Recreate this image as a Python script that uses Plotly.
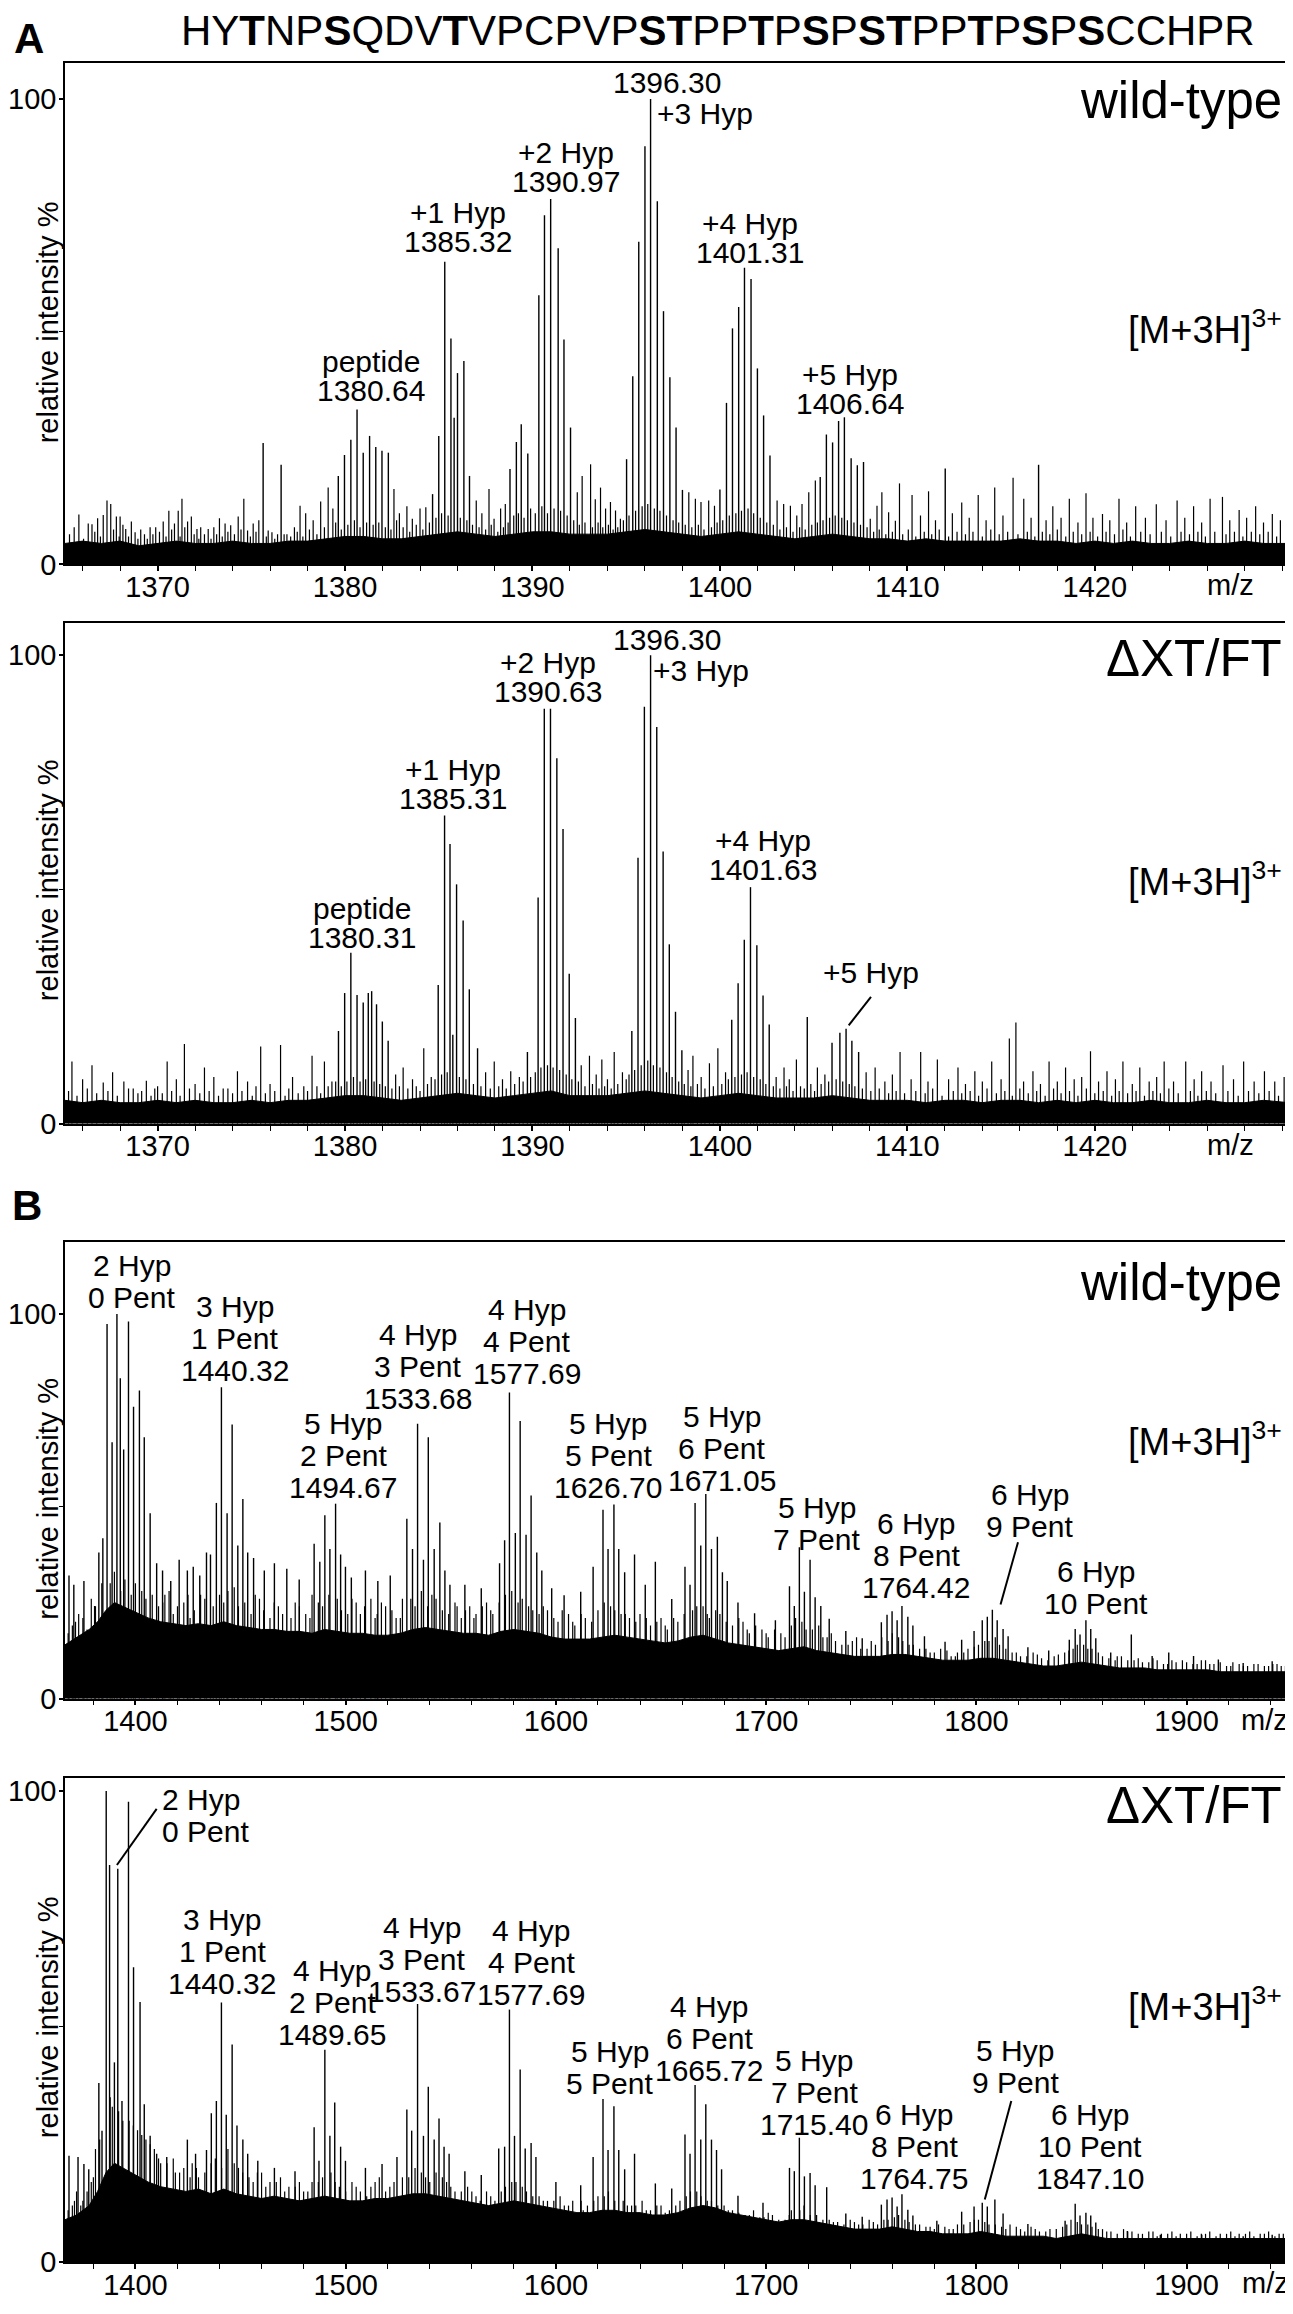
import plotly.graph_objects as go

# page body has an 8px margin: the figure is drawn 8px in from the window edge
OFF = 8
W, H = 1293 - OFF, 2314 - OFF
FONT = "Liberation Sans, Arial, Helvetica, sans-serif"

# ---------------- text / tick data ----------------
sequence = "HYTNPSQDVTVPCPVPSTPPTPSPSTPPTPSPSCCHPR"
bold_residues = "ST"
section_letters = ["A", "B"]
panel_names = ["wild-type", "\u0394XT/FT", "wild-type", "\u0394XT/FT"]
ion_label = "[M+3H]<sup>3+</sup>"
y_title = "relative intensity %"
x_title = "m/z"
a_ticks = [1370, 1380, 1390, 1400, 1410, 1420]
b_ticks = [1400, 1500, 1600, 1700, 1800, 1900]
y_ticks = [0, 100]

# ---------------- panel A, wild-type ----------------
aw_peaks = [
    (1379.64, 19.0), (1379.97, 23.5), (1380.31, 26.8), (1380.64, 33.3), (1380.97, 24.0),
    (1381.31, 27.6), (1381.64, 25.2), (1381.97, 24.4), (1382.31, 24.0),
    (1384.67, 15.1), (1385.00, 27.6), (1385.32, 65.0), (1385.65, 48.5), (1385.82, 31.5),
    (1386.00, 41.1), (1386.34, 43.7), (1386.64, 19.0),
    (1388.80, 20.5), (1389.14, 26.3), (1389.40, 30.1), (1389.75, 23.8), (1390.34, 57.8),
    (1390.64, 75.0), (1390.97, 78.5), (1391.37, 67.9), (1391.68, 48.3), (1392.03, 29.4),
    (1395.02, 22.6), (1395.35, 40.4), (1395.67, 69.3), (1396.00, 89.8), (1396.30, 100.0),
    (1396.66, 78.0), (1396.99, 54.4), (1397.33, 40.2), (1397.66, 29.4), (1398.00, 16.0),
    (1400.00, 16.1), (1400.35, 34.7), (1400.67, 50.7), (1401.00, 55.3), (1401.31, 63.7),
    (1401.66, 61.3), (1402.00, 42.1), (1402.33, 32.0), (1402.67, 23.4),
    (1405.35, 18.8), (1405.68, 27.9), (1406.01, 26.2), (1406.33, 30.8), (1406.64, 31.6),
    (1407.00, 22.8), (1407.33, 21.3), (1407.66, 22.0),
    (1375.63, 26.1), (1376.59, 21.4), (1412.02, 20.6), (1417.00, 21.4),
]
aw_noise = [
    (1365.8, 10.7), (1366.3, 8.8), (1366.5, 8.6), (1366.8, 9.9), (1367.1, 10.6), (1367.3, 13.7),
    (1367.5, 13.0), (1367.8, 10.3), (1368.0, 10.3), (1368.3, 7.6), (1368.6, 9.2), (1368.8, 6.9),
    (1369.3, 6.5), (1369.6, 8.0), (1369.9, 8.0), (1370.3, 9.2), (1370.6, 11.5), (1370.9, 8.8),
    (1371.1, 11.5), (1371.3, 14.1), (1371.6, 9.2), (1371.8, 10.3), (1372.1, 7.6), (1372.3, 8.0),
    (1372.7, 7.6), (1373.0, 8.0), (1373.3, 9.9), (1373.6, 8.8), (1373.9, 8.4), (1374.3, 10.3),
    (1374.6, 14.1), (1374.8, 7.3), (1375.1, 8.8), (1375.4, 9.5), (1375.9, 7.3), (1376.1, 6.9),
    (1376.4, 6.5), (1376.9, 6.5), (1377.3, 8.0), (1377.6, 12.6), (1377.9, 11.0), (1378.3, 9.5),
    (1378.7, 13.5), (1379.1, 16.5), (1379.35, 12.0), (1382.61, 16.2), (1382.9, 11.0),
    (1383.3, 12.5), (1383.59, 9.8), (1384.0, 12.0), (1384.31, 12.3), (1387.0, 13.7),
    (1387.3, 11.0), (1387.68, 16.2), (1387.95, 9.8), (1388.3, 12.0), (1388.55, 13.0),
    (1392.39, 15.5), (1392.65, 19.0), (1393.1, 21.5), (1393.35, 14.0), (1393.63, 16.5),
    (1393.9, 12.0), (1394.16, 13.4), (1394.43, 11.6), (1394.69, 9.8), (1398.34, 15.5),
    (1398.69, 14.1), (1398.99, 13.4), (1399.4, 13.7), (1399.71, 12.6), (1403.05, 13.7),
    (1403.4, 13.0), (1403.76, 12.6), (1404.1, 10.5), (1404.38, 13.0), (1404.74, 15.5),
    (1405.09, 18.0), (1408.02, 9.8), (1408.38, 12.6), (1408.64, 15.5), (1409.0, 11.2),
    (1409.36, 9.4), (1409.58, 17.4), (1410.25, 14.9), (1410.7, 10.5), (1411.13, 15.7),
    (1411.5, 9.5), (1412.4, 11.0), (1412.9, 13.3), (1413.3, 10.0), (1413.78, 14.9),
    (1414.2, 9.5), (1414.66, 16.5), (1415.1, 10.5), (1415.64, 18.6), (1416.21, 14.1),
    (1416.6, 10.0), (1417.4, 9.5), (1417.76, 12.5), (1418.2, 10.0), (1418.64, 14.1),
    (1419.1, 9.0), (1419.53, 15.3), (1419.9, 10.0), (1420.41, 10.8), (1420.8, 9.5),
    (1421.29, 14.1), (1421.7, 9.0), (1422.18, 12.5), (1422.7, 10.0), (1423.28, 12.9),
    (1423.8, 9.5), (1424.39, 13.7), (1424.8, 10.0), (1425.27, 12.5), (1425.7, 9.0),
    (1426.15, 14.1), (1426.81, 14.5), (1427.2, 9.5), (1427.7, 11.7), (1428.1, 10.0),
    (1428.58, 12.5), (1429.0, 9.0), (1429.47, 10.8), (1429.9, 9.5),
]
aw_grass = [
    (1365.3, 6.5), (1365.55, 8.0), (1366.05, 5.5), (1366.65, 7.0), (1366.95, 6.0), (1367.65, 7.5),
    (1367.95, 6.0), (1368.15, 8.5), (1368.45, 6.0), (1368.95, 5.5), (1369.1, 7.5), (1369.45, 5.5),
    (1369.75, 6.5), (1370.1, 7.0), (1370.45, 6.0), (1370.75, 7.5), (1371.2, 6.0), (1371.45, 8.0),
    (1371.95, 6.5), (1372.2, 5.5), (1372.5, 6.5), (1372.85, 5.5), (1373.15, 6.5), (1373.45, 6.0),
    (1373.75, 7.0), (1374.1, 6.5), (1374.45, 7.5), (1374.95, 6.0), (1375.25, 7.0), (1375.8, 6.0),
    (1376.25, 5.5), (1376.75, 6.5), (1377.1, 6.0), (1377.45, 7.0), (1377.75, 6.0), (1378.1, 7.5),
    (1378.5, 6.5), (1378.9, 8.0), (1379.5, 9.0), (1379.8, 7.5), (1380.15, 8.5), (1380.5, 9.5),
    (1380.8, 8.0), (1381.15, 9.0), (1381.5, 8.5), (1381.8, 9.0), (1382.15, 8.0), (1382.45, 7.5),
    (1382.75, 9.5), (1383.1, 8.0), (1383.45, 7.0), (1383.8, 8.5), (1384.15, 7.5), (1384.5, 9.0),
    (1384.85, 10.0), (1385.15, 11.0), (1385.5, 10.5), (1386.15, 10.0), (1386.5, 9.5), (1386.8, 8.5),
    (1387.15, 8.0), (1387.5, 7.5), (1387.8, 8.5), (1388.15, 7.0), (1388.45, 8.0), (1388.7, 9.0),
    (1389.0, 10.5), (1389.25, 11.0), (1389.55, 10.0), (1389.9, 12.0), (1390.15, 11.0), (1390.5, 12.5),
    (1390.8, 11.0), (1391.15, 12.0), (1391.5, 11.5), (1391.85, 10.5), (1392.2, 9.5), (1392.5, 8.5),
    (1392.8, 9.0), (1393.2, 8.0), (1393.5, 9.0), (1393.75, 8.0), (1394.05, 8.5), (1394.3, 7.5),
    (1394.55, 8.0), (1394.85, 9.5), (1395.15, 10.5), (1395.5, 11.5), (1395.85, 12.5), (1396.15, 13.0),
    (1396.5, 12.0), (1396.8, 11.5), (1397.15, 10.5), (1397.5, 9.5), (1397.8, 9.0), (1398.15, 8.5),
    (1398.5, 8.0), (1398.85, 8.5), (1399.15, 7.5), (1399.55, 8.0), (1399.85, 9.0), (1400.15, 9.5),
    (1400.5, 10.5), (1400.85, 11.0), (1401.15, 11.5), (1401.5, 12.0), (1401.8, 11.0), (1402.15, 10.0),
    (1402.5, 9.0), (1402.85, 8.5), (1403.2, 7.5), (1403.55, 8.0), (1403.9, 7.0), (1404.25, 8.0),
    (1404.55, 7.5), (1404.9, 8.5), (1405.2, 9.0), (1405.5, 9.5), (1405.85, 10.0), (1406.15, 10.5),
    (1406.5, 10.0), (1406.8, 9.5), (1407.15, 9.0), (1407.5, 8.5), (1407.85, 8.0), (1408.2, 7.0),
    (1408.5, 7.5), (1408.85, 6.5), (1409.2, 7.0), (1409.75, 6.5), (1410.05, 7.5), (1410.45, 6.0),
    (1410.9, 7.0), (1411.3, 6.5), (1411.7, 7.5), (1412.2, 6.0), (1412.65, 7.0), (1413.1, 6.5),
    (1413.5, 7.0), (1414.0, 6.0), (1414.45, 7.5), (1414.9, 6.5), (1415.35, 7.0), (1415.9, 6.5),
    (1416.4, 7.0), (1416.8, 6.0), (1417.2, 7.0), (1417.6, 6.5), (1418.0, 7.5), (1418.45, 6.0),
    (1418.85, 7.0), (1419.3, 6.5), (1419.75, 7.0), (1420.15, 6.0), (1420.6, 7.0), (1421.05, 6.5),
    (1421.5, 7.5), (1421.9, 6.0), (1422.45, 7.0), (1422.95, 6.5), (1423.55, 7.0), (1424.05, 6.0),
    (1424.6, 7.0), (1425.05, 6.5), (1425.5, 7.0), (1425.9, 6.0), (1426.4, 7.0), (1427.0, 6.5),
    (1427.45, 7.0), (1427.9, 6.0), (1428.35, 7.0), (1428.8, 6.5), (1429.25, 7.0), (1429.7, 6.0),
    (1430.2, 6.5),
]
aw_base = [
    (1365.06, 4.5), (1366, 5.0), (1367, 4.5), (1368, 5.0), (1369, 4.0), (1370, 4.5), (1371, 5.0),
    (1372, 4.5), (1373, 4.5), (1374, 5.0), (1375, 4.5), (1376, 4.5), (1377, 5.0), (1378, 5.0),
    (1379, 5.5), (1380, 6.0), (1381, 6.0), (1382, 5.5), (1383, 5.5), (1384, 6.0), (1385, 6.5),
    (1386, 7.0), (1387, 6.5), (1388, 6.0), (1389, 6.5), (1390, 7.0), (1391, 7.0), (1392, 6.5),
    (1393, 6.5), (1394, 6.5), (1395, 7.0), (1396, 7.5), (1397, 7.0), (1398, 6.5), (1399, 6.0),
    (1400, 6.5), (1401, 7.0), (1402, 6.5), (1403, 6.0), (1404, 5.5), (1405, 6.0), (1406, 6.5),
    (1407, 6.0), (1408, 5.5), (1409, 5.5), (1410, 5.0), (1411, 5.5), (1412, 5.0), (1413, 5.0),
    (1414, 5.0), (1415, 5.0), (1416, 5.5), (1417, 5.0), (1418, 5.0), (1419, 4.5), (1420, 5.0),
    (1421, 4.5), (1422, 5.0), (1423, 4.5), (1424, 4.5), (1425, 5.0), (1426, 4.5), (1427, 4.5),
    (1428, 5.0), (1429, 4.5), (1430.36, 4.5),
]
aw_label_text = [["peptide", "1380.64"], ["+1 Hyp", "1385.32"], ["+2 Hyp", "1390.97"],
                 ["1396.30"], ["+3 Hyp"], ["+4 Hyp", "1401.31"], ["+5 Hyp", "1406.64"]]

# ---------------- panel A, dXT/FT ----------------
ad_peaks = [
    (1379.65, 19.8), (1379.98, 27.9), (1380.31, 36.5), (1380.64, 27.5), (1380.97, 25.9),
    (1381.24, 27.9), (1381.42, 28.3), (1381.68, 25.5), (1381.99, 21.8), (1382.30, 17.7),
    (1384.97, 29.6), (1385.31, 65.8), (1385.60, 59.7), (1385.75, 19.0), (1385.95, 51.1),
    (1386.30, 43.4), (1386.63, 28.7), (1387.07, 16.1),
    (1389.73, 15.3), (1390.30, 48.3), (1390.63, 88.6), (1390.96, 88.6), (1391.30, 78.0),
    (1391.63, 62.9), (1391.96, 32.0), (1392.29, 22.6),
    (1395.30, 19.8), (1395.63, 56.8), (1395.97, 89.0), (1396.30, 100.0), (1396.63, 84.7),
    (1396.97, 58.1), (1397.30, 38.3), (1397.63, 23.9), (1397.97, 15.7),
    (1400.63, 22.2), (1400.97, 30.0), (1401.30, 39.3), (1401.63, 50.5), (1401.97, 38.1),
    (1402.30, 27.4), (1402.63, 21.2),
    (1404.66, 22.8), (1405.98, 17.3), (1406.40, 19.4), (1406.73, 20.3), (1407.04, 17.7),
    (1407.40, 15.3),
]
ad_noise = [
    (1365.43, 13.3), (1366.0, 9.5), (1366.5, 12.5), (1367.1, 8.8), (1367.6, 11.0), (1368.2, 9.0),
    (1368.7, 7.5), (1369.4, 9.2), (1370.0, 8.0), (1370.51, 13.3), (1371.0, 9.5), (1371.43, 17.0),
    (1372.0, 8.5), (1372.5, 12.0), (1373.0, 10.0), (1373.5, 7.5), (1374.26, 11.2), (1374.8, 9.0),
    (1375.5, 16.5), (1376.0, 8.5), (1376.56, 16.8), (1377.2, 10.0), (1377.8, 8.0), (1378.24, 14.5),
    (1378.9, 13.3), (1379.3, 9.0), (1382.7, 10.5), (1383.1, 12.0), (1383.6, 9.5), (1384.2, 16.1),
    (1384.6, 10.0), (1387.5, 11.0), (1387.96, 13.3), (1388.4, 9.5), (1388.84, 11.2), (1389.3, 10.0),
    (1392.6, 12.5), (1393.04, 14.5), (1393.4, 10.5), (1393.7, 13.7), (1394.0, 9.5), (1394.36, 15.3),
    (1394.8, 11.0), (1398.3, 11.5), (1398.56, 14.5), (1399.0, 10.0), (1399.44, 12.9), (1399.89, 16.1),
    (1400.3, 11.0), (1403.0, 10.0), (1403.42, 12.0), (1403.7, 9.5), (1404.08, 13.7), (1405.2, 12.0),
    (1405.6, 10.5), (1407.8, 11.0), (1408.28, 12.0), (1408.8, 9.0), (1409.2, 10.5), (1409.61, 15.3),
    (1410.2, 9.5), (1410.71, 15.3), (1411.1, 9.0), (1411.6, 13.7), (1412.2, 9.5), (1412.7, 12.0),
    (1413.1, 8.5), (1413.6, 11.2), (1414.0, 9.0), (1414.5, 13.3), (1415.0, 9.5), (1415.44, 18.2),
    (1415.79, 21.6), (1416.2, 9.0), (1416.7, 11.2), (1417.1, 8.5), (1417.56, 13.3), (1418.0, 9.0),
    (1418.44, 12.0), (1418.9, 9.5), (1419.3, 10.0), (1419.77, 15.5), (1420.2, 9.0), (1420.65, 11.2),
    (1421.1, 9.5), (1421.5, 13.3), (1422.0, 8.5), (1422.4, 12.0), (1422.9, 9.0), (1423.3, 10.0),
    (1423.7, 13.3), (1424.2, 9.0), (1424.85, 13.3), (1425.3, 9.5), (1425.7, 11.2), (1426.2, 9.0),
    (1426.84, 12.5), (1427.4, 9.5), (1427.94, 13.3), (1428.5, 9.0), (1429.05, 11.2), (1429.6, 9.0),
    (1430.1, 10.0),
]
ad_grass = [
    (1365.25, 7.0), (1365.7, 6.0), (1366.25, 7.5), (1366.75, 6.5), (1367.35, 7.0), (1367.85, 6.0),
    (1368.45, 7.5), (1368.95, 6.5), (1369.15, 7.0), (1369.65, 6.0), (1369.85, 7.5), (1370.25, 6.5),
    (1370.75, 7.0), (1371.2, 6.0), (1371.7, 7.5), (1372.25, 6.5), (1372.75, 7.0), (1373.25, 6.0),
    (1373.75, 7.5), (1374.0, 6.5), (1374.5, 7.0), (1375.05, 6.0), (1375.25, 8.0), (1375.75, 6.5),
    (1376.25, 7.0), (1376.8, 6.0), (1377.0, 7.5), (1377.5, 6.5), (1378.0, 7.0), (1378.5, 8.0),
    (1378.7, 6.5), (1379.1, 8.0), (1379.5, 9.0), (1379.8, 8.0), (1380.1, 9.0), (1380.45, 10.0),
    (1380.8, 9.0), (1381.1, 9.5), (1381.55, 9.0), (1381.85, 8.5), (1382.15, 8.0), (1382.5, 7.5),
    (1382.9, 8.0), (1383.35, 7.5), (1383.8, 8.0), (1384.0, 7.0), (1384.4, 8.5), (1384.8, 9.5),
    (1385.15, 10.5), (1385.45, 11.0), (1386.1, 10.0), (1386.45, 9.5), (1386.85, 8.5), (1387.25, 8.0),
    (1387.75, 7.5), (1388.2, 8.0), (1388.6, 7.5), (1389.05, 8.5), (1389.5, 9.0), (1389.9, 10.0),
    (1390.15, 11.0), (1390.45, 12.0), (1390.8, 12.5), (1391.1, 12.0), (1391.45, 11.5), (1391.8, 10.5),
    (1392.1, 9.5), (1392.45, 9.0), (1392.8, 8.0), (1393.2, 8.5), (1393.55, 7.5), (1393.85, 8.0),
    (1394.2, 7.5), (1394.55, 8.5), (1395.0, 9.5), (1395.15, 10.5), (1395.45, 11.5), (1395.8, 12.5),
    (1396.15, 13.5), (1396.45, 12.5), (1396.8, 12.0), (1397.15, 11.0), (1397.45, 10.0), (1397.8, 9.0),
    (1398.1, 8.5), (1398.45, 8.0), (1398.8, 8.5), (1399.2, 7.5), (1399.65, 8.0), (1400.1, 8.5),
    (1400.45, 9.5), (1400.8, 10.0), (1401.15, 10.5), (1401.45, 11.0), (1401.8, 10.0), (1402.15, 9.5),
    (1402.45, 8.5), (1402.85, 8.0), (1403.2, 7.5), (1403.55, 8.0), (1403.9, 7.0), (1404.3, 8.0),
    (1404.5, 7.5), (1404.85, 8.5), (1405.05, 7.0), (1405.4, 8.5), (1405.8, 9.0), (1406.2, 9.5),
    (1406.55, 9.0), (1406.9, 8.5), (1407.2, 8.0), (1407.6, 7.5), (1408.05, 7.0), (1408.5, 7.5),
    (1409.0, 6.5), (1409.4, 7.0), (1409.85, 6.5), (1410.45, 7.0), (1410.95, 6.5), (1411.35, 7.5),
    (1411.85, 6.0), (1412.45, 7.0), (1412.9, 6.5), (1413.35, 7.0), (1413.8, 6.0), (1414.25, 7.5),
    (1414.75, 6.5), (1415.2, 7.0), (1415.6, 6.0), (1416.0, 7.5), (1416.45, 6.5), (1416.9, 7.0),
    (1417.35, 6.0), (1417.8, 7.5), (1418.2, 6.5), (1418.65, 7.0), (1419.1, 6.0), (1419.55, 7.5),
    (1420.0, 6.5), (1420.45, 7.0), (1420.9, 6.0), (1421.3, 7.0), (1421.75, 6.5), (1422.2, 7.0),
    (1422.65, 6.0), (1423.1, 7.0), (1423.5, 6.5), (1423.95, 7.5), (1424.45, 6.5), (1425.1, 7.0),
    (1425.5, 6.0), (1425.95, 7.0), (1426.45, 6.5), (1427.1, 7.0), (1427.65, 6.0), (1428.2, 7.0),
    (1428.75, 6.5), (1429.3, 7.0), (1429.8, 6.0),
]
ad_base = [
    (1365.06, 5.0), (1366, 4.5), (1367, 5.0), (1368, 4.5), (1369, 4.5), (1370, 5.0), (1371, 4.5),
    (1372, 5.0), (1373, 4.5), (1374, 4.5), (1375, 5.0), (1376, 4.5), (1377, 5.0), (1378, 5.0),
    (1379, 5.5), (1380, 6.0), (1381, 6.0), (1382, 5.5), (1383, 5.0), (1384, 5.5), (1385, 6.0),
    (1386, 6.5), (1387, 6.0), (1388, 5.5), (1389, 6.0), (1390, 6.5), (1391, 7.0), (1392, 6.0),
    (1393, 6.0), (1394, 6.0), (1395, 6.5), (1396, 7.0), (1397, 6.5), (1398, 6.0), (1399, 5.5),
    (1400, 6.0), (1401, 6.5), (1402, 6.0), (1403, 5.5), (1404, 5.5), (1405, 5.5), (1406, 6.0),
    (1407, 5.5), (1408, 5.0), (1409, 5.0), (1410, 5.0), (1411, 4.5), (1412, 5.0), (1413, 5.0),
    (1414, 4.5), (1415, 5.0), (1416, 5.0), (1417, 4.5), (1418, 5.0), (1419, 4.5), (1420, 5.0),
    (1421, 4.5), (1422, 4.5), (1423, 5.0), (1424, 4.5), (1425, 4.5), (1426, 5.0), (1427, 4.5),
    (1428, 4.5), (1429, 5.0), (1430.36, 4.5),
]
ad_label_text = [["peptide", "1380.31"], ["+1 Hyp", "1385.31"], ["+2 Hyp", "1390.63"],
                 ["1396.30"], ["+3 Hyp"], ["+4 Hyp", "1401.63"], ["+5 Hyp"]]

# ---------------- panel B, wild-type ----------------
bw_peaks = [
    (1368.4, 32.0), (1370.7, 29.6), (1375.5, 30.6), (1380.6, 24.1), (1382.6, 38.0),
    (1384.5, 41.7), (1386.5, 97.4), (1388.9, 66.7), (1391.2, 100.0), (1392.8, 83.3),
    (1394.4, 64.8), (1396.7, 98.1), (1399.1, 75.9), (1401.9, 80.1), (1404.2, 68.0),
    (1407.0, 48.2), (1410.1, 35.2), (1412.9, 33.3), (1416.8, 30.6), (1420.8, 36.1),
    (1424.7, 33.3), (1427.5, 34.3), (1430.6, 32.0), (1433.8, 38.0), (1435.7, 37.5),
    (1438.5, 50.9), (1440.9, 81.0), (1443.6, 48.2), (1446.0, 71.3), (1448.7, 39.8),
    (1451.1, 51.9), (1453.4, 38.0), (1456.2, 36.6), (1461.3, 33.3), (1466.1, 35.2),
    (1472.0, 33.8), (1477.9, 31.0), (1485.0, 40.3), (1487.7, 35.6), (1490.1, 47.7),
    (1492.5, 38.9), (1495.2, 50.7), (1497.6, 37.5), (1499.9, 34.3), (1502.7, 31.5),
    (1509.4, 33.3), (1515.3, 30.6), (1521.2, 32.0), (1529.1, 46.8), (1531.8, 38.9),
    (1534.2, 71.5), (1537.0, 36.1), (1539.3, 68.0), (1542.1, 38.9), (1544.8, 45.8),
    (1547.2, 33.3), (1549.6, 29.6), (1556.7, 29.6), (1564.5, 28.7), (1573.2, 35.2),
    (1575.6, 41.2), (1577.9, 79.6), (1580.7, 43.1), (1583.0, 72.2), (1585.8, 42.6),
    (1588.2, 52.8), (1590.9, 38.0), (1593.3, 33.3), (1598.0, 28.7), (1603.9, 26.9),
    (1611.8, 27.8), (1617.7, 34.3), (1622.4, 49.1), (1624.8, 38.9), (1627.6, 50.5),
    (1629.9, 38.9), (1632.7, 32.9), (1637.4, 37.5), (1642.5, 29.6), (1647.3, 35.6),
    (1655.1, 25.9), (1661.4, 34.3), (1663.8, 29.6), (1666.2, 50.9), (1668.9, 39.8),
    (1671.3, 53.2), (1674.0, 38.9), (1676.8, 42.1), (1679.2, 32.9), (1681.5, 30.6),
    (1686.6, 25.0), (1694.5, 22.2), (1704.4, 20.4), (1711.1, 29.2), (1713.4, 24.1),
    (1715.8, 39.4), (1718.2, 27.8), (1720.9, 36.1), (1723.3, 26.4), (1726.0, 24.1),
    (1730.0, 20.8), (1737.9, 17.6), (1745.7, 15.7), (1754.8, 19.9), (1757.5, 21.8),
    (1759.9, 22.7), (1762.3, 20.4), (1764.6, 24.1), (1767.4, 21.3), (1769.8, 19.0),
    (1775.3, 16.2), (1785.1, 14.8), (1793.0, 15.3), (1798.9, 17.6), (1802.8, 20.4),
    (1805.2, 21.3), (1807.6, 23.1), (1809.9, 20.4), (1812.7, 18.1), (1815.1, 16.2),
    (1824.5, 13.4), (1834.4, 12.5), (1844.2, 15.3), (1847.0, 18.1), (1849.3, 16.7),
    (1852.1, 20.4), (1854.4, 18.1), (1856.8, 15.7), (1863.9, 12.0), (1873.7, 16.7),
    (1883.6, 11.1), (1891.5, 12.0), (1903.3, 11.1), (1915.1, 10.2), (1926.9, 9.3),
    (1940.7, 9.7),
]
bw_noise = [
    (1370, 19), (1373, 22), (1377, 18), (1379, 26), (1388, 30), (1393, 28), (1398, 27), (1405, 26),
    (1411, 24), (1414, 27), (1418, 22), (1423, 25), (1426, 21), (1431, 27), (1437, 24), (1444, 28),
    (1449, 24), (1455, 22), (1459, 26), (1464, 21), (1468, 24), (1474, 21), (1476, 25), (1481, 22),
    (1484, 27), (1489, 24), (1496, 26), (1501, 22), (1505, 25), (1507, 22), (1512, 26), (1515, 22),
    (1519, 24), (1524, 21), (1527, 26), (1533, 24), (1541, 27), (1546, 23), (1552, 25), (1555, 21),
    (1559, 24), (1562, 22), (1567, 25), (1570, 22), (1576, 27), (1582, 25), (1587, 24), (1592, 22),
    (1596, 23), (1601, 20), (1606, 22), (1609, 19), (1614, 21), (1620, 23), (1626, 24), (1631, 22),
    (1635, 21), (1640, 22), (1645, 19), (1650, 21), (1653, 18), (1658, 20), (1665, 23), (1670, 24),
    (1673, 21), (1678, 22), (1684, 19), (1689, 20), (1692, 17), (1698, 18), (1701, 16), (1707, 17),
    (1712, 19), (1717, 20), (1722, 18), (1729, 16), (1733, 15), (1739, 14), (1743, 16), (1748, 13),
    (1752, 14), (1758, 15), (1763, 16), (1768, 14), (1773, 13), (1778, 12), (1783, 13), (1788, 11),
    (1791, 12), (1796, 13), (1801, 14), (1806, 15), (1811, 14), (1817, 12), (1821, 11), (1827, 12),
    (1831, 10.5), (1837, 11), (1842, 12), (1846, 13), (1851, 14), (1855, 13), (1860, 11), (1866, 10),
    (1869, 11), (1875, 10), (1879, 9.5), (1886, 10), (1889, 9), (1895, 9.5), (1898, 10), (1905, 9),
    (1909, 10), (1913, 9), (1919, 8.5), (1922, 9.5), (1929, 8.5), (1932, 9), (1937, 8.5), (1943, 9),
    (1947, 8.5),
]
bw_grass = [
    (1368, 17), (1371.5, 20), (1375, 21), (1381, 24), (1384, 30), (1390, 33), (1395, 31), (1400, 30),
    (1403, 28), (1408, 27), (1413, 25), (1416, 28), (1420, 24), (1425, 27), (1428, 23), (1433, 26),
    (1440, 27), (1442, 25), (1447, 29), (1452, 25), (1457, 27), (1461, 23), (1466, 25), (1470, 22),
    (1478, 24), (1483, 21), (1487, 25), (1492, 27), (1498, 23), (1503, 26), (1509, 24), (1514, 21),
    (1517, 25), (1522, 23), (1526, 21), (1531, 26), (1536, 28), (1539, 24), (1543, 26), (1549, 22),
    (1553, 24), (1557, 23), (1561, 21), (1565, 24), (1569, 23), (1573, 25), (1579, 28), (1584, 26),
    (1589, 23), (1594, 24), (1599, 21), (1603, 23), (1608, 20), (1612, 22), (1617, 20), (1623, 25),
    (1628, 23), (1633, 22), (1638, 20), (1643, 21), (1648, 20), (1652, 19), (1656, 21), (1661, 22),
    (1667, 24), (1672, 22), (1676, 23), (1681, 20), (1687, 21), (1691, 18), (1695, 19), (1700, 17),
    (1704, 18), (1709, 16), (1714, 21), (1719, 18), (1725, 19), (1727, 16), (1731, 17), (1736, 14),
    (1741, 15), (1745, 13), (1750, 15), (1755, 16), (1760, 17), (1765, 15), (1770, 14), (1776, 13),
    (1780, 12), (1786, 12.5), (1790, 11), (1794, 12), (1799, 13.5), (1804, 15), (1809, 16), (1814, 13),
    (1819, 12), (1824, 11), (1829, 11.5), (1834, 10), (1839, 11.5), (1844, 12.5), (1848, 14), (1853, 13),
    (1858, 12), (1863, 10.5), (1867, 11), (1872, 10), (1877, 10.5), (1882, 9.5), (1884, 10.5), (1891, 9),
    (1893, 10), (1900, 9.5), (1903, 9), (1907, 10), (1911, 9), (1916, 9.5), (1921, 8.5), (1925, 9),
    (1927, 8.5), (1934, 9), (1939, 8.5), (1941, 9), (1945, 8.5),
]
bw_base = [
    (1366.5, 14), (1372, 16), (1378, 18), (1382, 20), (1386, 23), (1390, 25), (1394, 24), (1398, 23),
    (1402, 22), (1406, 21), (1412, 20), (1418, 19.5), (1424, 19), (1430, 19.5), (1436, 19), (1442, 20),
    (1448, 19), (1454, 18.5), (1460, 18), (1466, 18), (1472, 17.5), (1478, 17.5), (1484, 17),
    (1490, 18), (1496, 17.5), (1502, 17), (1508, 17), (1514, 16.5), (1520, 16.5), (1526, 17),
    (1532, 18), (1538, 18.5), (1544, 18), (1550, 17.5), (1556, 17), (1562, 17), (1568, 16.5),
    (1574, 17.5), (1580, 18), (1586, 17.5), (1592, 17), (1598, 16), (1604, 15.5), (1610, 15.5),
    (1616, 15.5), (1622, 16), (1628, 16.5), (1634, 16), (1640, 15.5), (1646, 15), (1652, 14.5),
    (1658, 15), (1664, 16), (1670, 16.5), (1676, 15.5), (1682, 14.5), (1688, 14), (1694, 13.5),
    (1700, 13), (1706, 12.5), (1712, 13), (1718, 13.5), (1724, 12.5), (1730, 12), (1736, 11.5),
    (1742, 11), (1748, 11), (1754, 11), (1760, 11.5), (1766, 11.5), (1772, 11), (1778, 10.5),
    (1784, 10), (1790, 10), (1796, 10), (1802, 10.5), (1808, 10.5), (1814, 10), (1820, 9.5),
    (1826, 9), (1832, 8.5), (1838, 8.5), (1844, 9), (1850, 9.5), (1856, 9), (1862, 8.5), (1868, 8),
    (1874, 8), (1880, 8), (1886, 7.5), (1892, 7.5), (1898, 7.5), (1904, 7.5), (1910, 7.5), (1916, 7),
    (1922, 7), (1928, 7), (1934, 7), (1940, 7), (1948.7, 7),
]
bw_label_text = [["2 Hyp", "0 Pent"], ["3 Hyp", "1 Pent", "1440.32"], ["5 Hyp", "2 Pent", "1494.67"],
                 ["4 Hyp", "3 Pent", "1533.68"], ["4 Hyp", "4 Pent", "1577.69"],
                 ["5 Hyp", "5 Pent", "1626.70"], ["5 Hyp", "6 Pent", "1671.05"], ["5 Hyp", "7 Pent"],
                 ["6 Hyp", "8 Pent", "1764.42"], ["6 Hyp", "9 Pent"], ["6 Hyp", "10 Pent"]]

# ---------------- panel B, dXT/FT ----------------
bd_peaks = [
    (1368.4, 22.6), (1372.7, 22.3), (1375.5, 20.8), (1377.8, 19.7), (1382.6, 38.0),
    (1384.1, 27.9), (1386.1, 100.0), (1387.7, 84.3), (1390.0, 42.4), (1391.6, 83.5),
    (1393.6, 34.2), (1396.7, 97.7), (1399.1, 62.6), (1402.2, 55.2), (1404.2, 33.5),
    (1407.0, 26.8), (1410.1, 23.0), (1414.9, 22.3), (1424.7, 26.0), (1428.6, 23.0),
    (1433.8, 23.8), (1436.1, 31.6), (1438.5, 34.2), (1440.9, 55.1), (1443.2, 31.3),
    (1446.0, 46.2), (1448.3, 29.0), (1451.1, 26.0), (1453.4, 23.0), (1458.2, 21.5),
    (1466.1, 20.0), (1475.9, 19.3), (1485.0, 28.6), (1487.3, 21.5), (1490.1, 45.1),
    (1492.5, 26.8), (1494.8, 33.9), (1497.6, 24.5), (1499.9, 21.5), (1509.4, 20.0),
    (1517.3, 20.8), (1524.4, 22.3), (1529.1, 32.4), (1531.4, 27.9), (1534.2, 54.8),
    (1537.0, 26.8), (1539.3, 37.2), (1542.1, 26.0), (1544.4, 30.5), (1546.8, 24.5),
    (1549.2, 23.0), (1556.7, 19.3), (1564.5, 18.5), (1572.8, 24.1), (1575.6, 24.5),
    (1577.9, 53.6), (1580.3, 26.8), (1583.0, 40.9), (1585.4, 24.1), (1588.2, 25.3),
    (1590.5, 22.3), (1600.0, 17.0), (1611.8, 16.3), (1617.7, 22.3), (1622.4, 34.6),
    (1624.8, 23.8), (1627.6, 33.1), (1629.9, 23.8), (1632.7, 19.7), (1637.4, 23.0),
    (1647.3, 16.7), (1655.1, 15.6), (1661.4, 27.1), (1663.8, 23.0), (1666.2, 37.6),
    (1668.9, 26.0), (1671.3, 33.5), (1674.0, 26.0), (1676.4, 23.8), (1678.8, 19.7),
    (1686.6, 14.1), (1698.5, 12.6), (1711.1, 20.0), (1713.4, 19.3), (1715.8, 26.4),
    (1718.2, 18.2), (1720.9, 18.9), (1723.3, 16.3), (1728.8, 15.9), (1737.9, 10.3),
    (1745.7, 9.6), (1754.8, 12.2), (1757.5, 13.3), (1759.9, 13.7), (1762.3, 11.8),
    (1764.6, 14.4), (1767.4, 11.1), (1769.8, 9.9), (1781.2, 8.8), (1793.0, 10.7),
    (1798.9, 11.8), (1802.8, 12.6), (1805.2, 11.8), (1808.8, 13.3), (1812.7, 10.3),
    (1824.5, 8.1), (1842.2, 8.8), (1847.0, 12.4), (1849.3, 9.9), (1852.1, 10.5),
    (1854.4, 9.9), (1856.8, 8.4), (1871.8, 6.6), (1887.5, 5.8), (1907.2, 5.8),
    (1926.9, 5.5), (1940.7, 5.8),
]
bd_noise = [
    (1370, 12), (1372, 15), (1375, 13), (1379, 17), (1381, 24), (1388, 35), (1392, 32), (1397, 30),
    (1401, 28), (1405, 26), (1409, 24), (1412, 21), (1418, 22), (1421, 19), (1427, 21), (1430, 18),
    (1438, 22), (1444, 24), (1449, 20), (1454, 18), (1460, 19), (1464, 17), (1469, 18), (1473, 16),
    (1478, 17), (1482, 15), (1487, 17), (1493, 19), (1497, 16), (1503, 17), (1507, 15), (1512, 16),
    (1516, 18), (1521, 16), (1527, 18), (1533, 20), (1538, 18), (1543, 19), (1548, 17), (1552, 15),
    (1558, 16), (1562, 14), (1567, 15), (1571, 13), (1576, 16), (1581, 17), (1586, 15), (1592, 14),
    (1596, 13), (1602, 14), (1606, 12), (1612, 13), (1615, 12), (1620, 14), (1625, 15), (1632, 13),
    (1636, 12), (1641, 13), (1645, 11), (1650, 12), (1654, 11), (1659, 13), (1664, 15), (1669, 14),
    (1674, 13), (1680, 12), (1684, 11), (1690, 10), (1694, 11), (1699, 9.5), (1703, 10), (1709, 9),
    (1712, 11), (1718, 12), (1724, 10), (1730, 9), (1734, 8.5), (1740, 9), (1744, 8), (1749, 9),
    (1753, 8), (1758, 9), (1763, 10), (1768, 8.5), (1773, 8), (1778, 7.5), (1782, 8), (1787, 7),
    (1791, 8), (1797, 8.5), (1801, 9), (1806, 8), (1812, 7.5), (1816, 8), (1821, 7), (1826, 7.5),
    (1830, 6.5), (1835, 7), (1841, 7.5), (1845, 9), (1850, 8), (1855, 7.5), (1860, 7), (1864, 6.5),
    (1870, 7), (1874, 6.5), (1879, 6), (1884, 6.5), (1888, 6), (1893, 6.5), (1897, 6), (1902, 6.5),
    (1907, 6), (1911, 6.5), (1916, 6), (1921, 6.5), (1925, 6), (1930, 6.5), (1935, 6), (1939, 6.5),
    (1944, 6),
]
bd_grass = [
    (1368, 11), (1371, 13), (1374, 12), (1377, 15), (1380, 18), (1383, 26), (1389, 33), (1394, 30),
    (1399, 29), (1403, 27), (1407, 25), (1411, 22), (1415, 21), (1419, 19), (1423, 20), (1426, 18),
    (1429, 20), (1433, 19), (1436, 21), (1441, 20), (1447, 21), (1451, 19), (1456, 17), (1458, 19),
    (1462, 16), (1467, 17), (1471, 15), (1476, 16), (1480, 15), (1484, 17), (1489, 18), (1495, 17),
    (1500, 15), (1505, 16), (1510, 14), (1514, 17), (1519, 15), (1523, 17), (1530, 18), (1536, 19),
    (1540, 17), (1546, 18), (1550, 16), (1555, 15), (1560, 15), (1564, 13), (1569, 14), (1574, 15),
    (1579, 17), (1584, 16), (1589, 14), (1594, 13), (1599, 13), (1604, 12), (1608, 13), (1613, 11),
    (1618, 13), (1623, 14), (1628, 13), (1634, 12), (1638, 12), (1643, 11), (1648, 12), (1652, 10.5),
    (1657, 12), (1662, 14), (1667, 15), (1672, 13), (1677, 12), (1682, 11), (1687, 10.5), (1692, 10),
    (1697, 9.5), (1701, 10.5), (1706, 9), (1711, 10), (1716, 11), (1721, 10), (1727, 9), (1732, 8.5),
    (1737, 8), (1742, 8.5), (1746, 8), (1751, 8.5), (1756, 9), (1761, 9.5), (1766, 9), (1771, 8),
    (1776, 7.5), (1780, 7), (1785, 7.5), (1789, 7), (1794, 8), (1799, 9), (1804, 8.5), (1809, 8),
    (1814, 7), (1819, 7.5), (1823, 6.5), (1828, 7), (1833, 6.5), (1838, 7), (1843, 8), (1848, 8.5),
    (1853, 8), (1858, 7), (1862, 6.5), (1867, 6), (1872, 6.5), (1877, 6), (1882, 6.5), (1886, 5.5),
    (1891, 6), (1895, 5.5), (1900, 6), (1905, 5.5), (1909, 6), (1914, 5.5), (1919, 6), (1923, 5.5),
    (1928, 6), (1932, 5.5), (1937, 6), (1942, 5.5), (1946, 6),
]
bd_base = [
    (1366.5, 9), (1372, 10), (1378, 12), (1382, 15), (1386, 19), (1390, 21), (1394, 20), (1398, 19),
    (1402, 18), (1406, 17), (1412, 16), (1418, 15.5), (1424, 15), (1430, 15.5), (1436, 14.5),
    (1442, 15.5), (1448, 14.5), (1454, 14), (1460, 13.5), (1466, 14), (1472, 13.5), (1478, 13),
    (1484, 13.5), (1490, 14), (1496, 13.5), (1502, 13), (1508, 13), (1514, 13.5), (1520, 13.5),
    (1526, 14), (1532, 14.5), (1538, 14.5), (1544, 14), (1550, 13.5), (1556, 13), (1562, 12.5),
    (1568, 12), (1574, 12.5), (1580, 13), (1586, 12.5), (1592, 12), (1598, 11.5), (1604, 11),
    (1610, 10.5), (1616, 10.5), (1622, 11), (1628, 11), (1634, 10.5), (1640, 10.5), (1646, 10),
    (1652, 10), (1658, 10.5), (1664, 11.5), (1670, 12), (1676, 11.5), (1682, 10.5), (1688, 10),
    (1694, 9.5), (1700, 9), (1706, 8.5), (1712, 9), (1718, 9), (1724, 8.5), (1730, 8), (1736, 7.5),
    (1742, 7), (1748, 7), (1754, 7), (1760, 7.5), (1766, 7), (1772, 6.5), (1778, 6.5), (1784, 6),
    (1790, 6), (1796, 6), (1802, 6.5), (1808, 6), (1814, 5.5), (1820, 5.5), (1826, 5.5), (1832, 5.5),
    (1838, 5), (1844, 5.5), (1850, 6), (1856, 5.5), (1862, 5), (1868, 5), (1874, 5), (1880, 5),
    (1886, 5), (1892, 5), (1898, 5), (1904, 5), (1910, 5), (1916, 5), (1922, 5), (1928, 5),
    (1934, 5), (1940, 5), (1948.7, 5),
]
bd_label_text = [["2 Hyp", "0 Pent"], ["3 Hyp", "1 Pent", "1440.32"], ["4 Hyp", "2 Pent", "1489.65"],
                 ["4 Hyp", "3 Pent", "1533.67"], ["4 Hyp", "4 Pent", "1577.69"], ["5 Hyp", "5 Pent"],
                 ["4 Hyp", "6 Pent", "1665.72"], ["5 Hyp", "7 Pent", "1715.40"],
                 ["6 Hyp", "8 Pent", "1764.75"], ["5 Hyp", "9 Pent"], ["6 Hyp", "10 Pent", "1847.10"]]

# ---------------- layout (positions in window pixels / data units for placement) ----------------
LEFT_PX, RIGHT_PX = 65, 1289
panels = [
    dict(top=60, bottom=566, xr=[1365.06, 1430.36], yr=[0, 107.8], ticks=a_ticks, minor=2,
         peaks=aw_peaks, noise=aw_noise, grass=aw_grass, base=aw_base, labels=aw_label_text,
         label_pos=[(1381.4, 34.8), (1386.02, 66.8), (1391.78, 79.8), (1397.15, 101.1),
                    (1399.23, 94.4), (1401.59, 64.5), (1406.95, 32.2)],
         leaders=[], name_y=98, ion_y=327, mz_x=1230, lh=29),
    dict(top=625, bottom=1130, xr=[1365.06, 1430.36], yr=[0, 106.9], ticks=a_ticks, minor=2,
         peaks=ad_peaks, noise=ad_noise, grass=ad_grass, base=ad_base, labels=ad_label_text,
         label_pos=[(1380.89, 37.3), (1385.75, 67.0), (1390.83, 89.8), (1397.15, 100.8),
                    (1399.0, 94.3), (1402.32, 51.9), (1408.06, 29.9)],
         leaders=[((1408.06, 27.1), (1406.87, 21.0))], name_y=661, ion_y=883, mz_x=1230, lh=29),
    dict(top=1249, bottom=1709.7, xr=[1366.5, 1948.7], yr=[0, 118.8], ticks=b_ticks, minor=20,
         peaks=bw_peaks, noise=bw_noise, grass=bw_grass, base=bw_base, labels=bw_label_text,
         label_pos=[(1398.3, 101.4), (1447.2, 82.4), (1498.8, 52.0), (1534.2, 75.0),
                    (1586.2, 81.5), (1624.8, 51.9), (1678.8, 53.7), (1724.1, 38.4),
                    (1771.3, 25.9), (1825.3, 41.7), (1856.8, 21.8)],
         leaders=[((1819.8, 40.7), (1811.5, 24.5))], name_y=1290, ion_y=1448, mz_x=1264, lh=32),
    dict(top=1789.5, bottom=2277.8, xr=[1366.5, 1948.7], yr=[0, 102.8], ticks=b_ticks, minor=20,
         peaks=bd_peaks, noise=bd_noise, grass=bd_grass, base=bd_base, labels=bd_label_text,
         label_pos=[(1411.7, 88.9, "left"), (1441.2, 56.6), (1493.6, 45.8), (1536.2, 55.1),
                    (1588.2, 54.4), (1625.6, 35.4), (1672.9, 38.3), (1722.9, 26.8),
                    (1770.5, 15.2), (1818.6, 35.7), (1854.1, 15.2)],
         leaders=[((1410.1, 96.2), (1391.2, 84.3)), ((1816.6, 34.2), (1804.0, 13.3))],
         name_y=1817, ion_y=2018, mz_x=1265, lh=32),
]


def sticks(pairs):
    xs, ys = [], []
    for m, h in pairs:
        xs += [m, m, None]
        ys += [0, h, None]
    return xs, ys


def px(x):
    return (x - OFF) / W


def py(y):
    return 1 - (y - OFF) / H


fig = go.Figure()
annotations = []
shapes = []
layout_axes = {}

for i, p in enumerate(panels, start=1):
    sfx = "" if i == 1 else str(i)
    xref, yref = "x" + sfx, "y" + sfx
    bx, by = zip(*p["base"])
    fig.add_trace(go.Scatter(x=list(bx), y=list(by), mode="lines", fill="tozeroy",
                             fillcolor="black", line=dict(color="black", width=1),
                             hoverinfo="skip", xaxis=xref, yaxis=yref))
    for series, wdt in ((p["grass"], 1.2), (p["noise"], 1.2), (p["peaks"], 1.4)):
        sx, sy = sticks(series)
        fig.add_trace(go.Scatter(x=sx, y=sy, mode="lines", line=dict(color="black", width=wdt),
                                 hoverinfo="skip", xaxis=xref, yaxis=yref))

    layout_axes["xaxis" + sfx] = dict(
        domain=[px(LEFT_PX), px(RIGHT_PX)], anchor=yref, range=p["xr"],
        tickmode="array", tickvals=p["ticks"], ticktext=[str(t) for t in p["ticks"]],
        ticks="outside", ticklen=5, tickwidth=1.5, tickcolor="black", ticklabelstandoff=-9,
        minor=dict(tickmode="linear", tick0=p["ticks"][0], dtick=p["minor"], ticks="outside",
                   ticklen=5, tickwidth=1.2, tickcolor="black"),
        showline=True, linecolor="black", linewidth=1.5, mirror=True,
        showgrid=False, zeroline=False,
        tickfont=dict(family=FONT, size=29, color="black"))
    layout_axes["yaxis" + sfx] = dict(
        domain=[py(p["bottom"]), py(p["top"])], anchor=xref, range=p["yr"],
        tickmode="array", tickvals=y_ticks, ticktext=[str(t) for t in y_ticks],
        ticks="outside", ticklen=4, tickwidth=1.5, tickcolor="black", ticklabelstandoff=-3,
        minor=dict(tickmode="linear", tick0=0, dtick=50, ticks="outside",
                   ticklen=4, tickwidth=1.2, tickcolor="black"),
        showline=True, linecolor="black", linewidth=1.5, mirror=True,
        showgrid=False, zeroline=False,
        tickfont=dict(family=FONT, size=29, color="black"))

    for lines, pos in zip(p["labels"], p["label_pos"]):
        anchor = pos[2] if len(pos) > 2 else "center"
        n = len(lines)
        for k, t in enumerate(lines):
            annotations.append(dict(
                x=pos[0], y=pos[1], xref=xref, yref=yref, text=t, showarrow=False,
                xanchor=anchor, yanchor="bottom", yshift=-7 + (n - 1 - k) * p["lh"],
                font=dict(family=FONT, size=30, color="black")))
    for (x0, y0), (x1, y1) in p["leaders"]:
        shapes.append(dict(type="line", xref=xref, yref=yref, x0=x0, y0=y0, x1=x1, y1=y1,
                           line=dict(color="black", width=2)))

    annotations.append(dict(x=px(1284), y=py(p["name_y"]), xref="paper", yref="paper",
                            text=panel_names[i - 1], showarrow=False, xanchor="right",
                            yanchor="middle", font=dict(family=FONT, size=51, color="black")))
    annotations.append(dict(x=px(1284), y=py(p["ion_y"]), xref="paper", yref="paper",
                            text=ion_label, showarrow=False, xanchor="right",
                            yanchor="middle", font=dict(family=FONT, size=38, color="black")))
    annotations.append(dict(x=px(48), y=52, xref="paper", yref=yref, text=y_title,
                            textangle=-90, showarrow=False, xanchor="center", yanchor="middle",
                            font=dict(family=FONT, size=29, color="black")))
    annotations.append(dict(x=px(p["mz_x"]), y=py(p["bottom"] + 21), xref="paper", yref="paper",
                            text=x_title, showarrow=False, xanchor="center", yanchor="middle",
                            font=dict(family=FONT, size=29, color="black")))

annotations.append(dict(x=px(29), y=py(36), xref="paper", yref="paper",
                        text="<b>%s</b>" % section_letters[0], showarrow=False,
                        xanchor="center", yanchor="middle",
                        font=dict(family=FONT, size=42, color="black")))
annotations.append(dict(x=px(27), y=py(1212), xref="paper", yref="paper",
                        text="<b>%s</b>" % section_letters[1], showarrow=False,
                        xanchor="center", yanchor="middle",
                        font=dict(family=FONT, size=42, color="black")))
seq_html = "".join("<b>%s</b>" % c if c in bold_residues else c for c in sequence)
annotations.append(dict(x=px(718), y=py(28), xref="paper", yref="paper", text=seq_html,
                        showarrow=False, xanchor="center", yanchor="middle",
                        font=dict(family=FONT, size=42, color="black")))

fig.update_layout(
    width=W, height=H, margin=dict(l=0, r=0, t=0, b=0),
    paper_bgcolor="white", plot_bgcolor="white", showlegend=False,
    annotations=annotations, shapes=shapes, **layout_axes)

fig.write_html("out.html")
